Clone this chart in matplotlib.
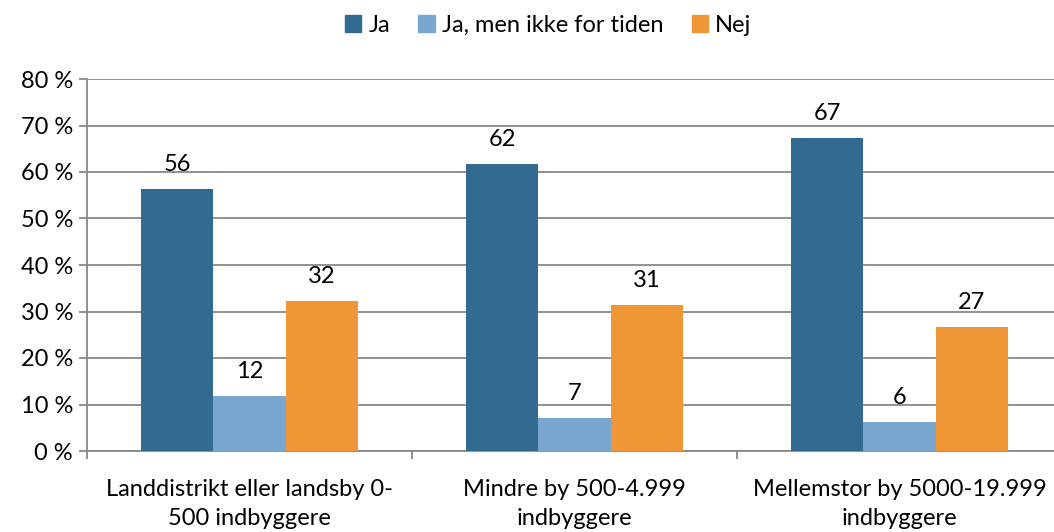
import numpy as np
import matplotlib.pyplot as plt
from matplotlib.patches import Patch

plt.rcParams['font.family'] = ['Lato', 'DejaVu Sans']

categories = ['Landdistrikt eller landsby 0-\n500 indbyggere',
              'Mindre by 500-4.999\nindbyggere',
              'Mellemstor by 5000-19.999\nindbyggere']
series = ['Ja', 'Ja, men ikke for tiden', 'Nej']
ja = [56.3, 61.7, 67.4]
ja_ikke = [11.8, 7.1, 6.2]
nej = [32.3, 31.4, 26.7]
colors = ['#336a92', '#78a6cf', '#ef9637']

fig = plt.figure(figsize=(10.54, 5.32), dpi=100)
ax = fig.add_axes([87/1054, 1 - 451/532, 975/1054, 372/532])

x = np.arange(len(categories))
w = 0.223
grey = '#888888'
fs = 17
for i, (vals, c) in enumerate(zip([ja, ja_ikke, nej], colors)):
    pos = x + (i - 1) * w
    ax.bar(pos, vals, width=w, color=c, zorder=3)
    for p, v in zip(pos, vals):
        ax.text(p, v + 3.0, f'{round(v)}', ha='center', va='bottom', fontsize=fs)

ax.set_xlim(-0.5, 2.5)
ax.set_ylim(0, 80)
ax.set_yticks(range(0, 81, 10))
ax.set_yticklabels([f'{t} %' for t in range(0, 81, 10)], fontsize=fs)
ax.yaxis.grid(True, color=grey, linewidth=1.3, zorder=0)
ax.set_xticks([-0.5, 0.5, 1.5, 2.5])
ax.set_xticklabels([])
ax.set_xticks(x, minor=True)
ax.set_xticklabels(categories, minor=True, fontsize=fs, linespacing=1.5)
ax.tick_params(axis='x', which='minor', length=0, pad=20)
ax.tick_params(axis='x', which='major', length=6, color=grey, width=1.3)
ax.tick_params(axis='y', length=6, color=grey, width=1.3, pad=4)
for s in ['top', 'right']:
    ax.spines[s].set_visible(False)
for s in ['left', 'bottom']:
    ax.spines[s].set_color(grey)
    ax.spines[s].set_linewidth(1.3)

handles = [Patch(color=c, label=s) for c, s in zip(colors, series)]
fig.legend(handles=handles, loc='center', bbox_to_anchor=(0.52, 0.953), ncol=3,
           frameon=False, fontsize=fs, handlelength=0.7, handleheight=0.7,
           handletextpad=0.3, columnspacing=1.2)

fig.savefig('out.png', dpi=100)
